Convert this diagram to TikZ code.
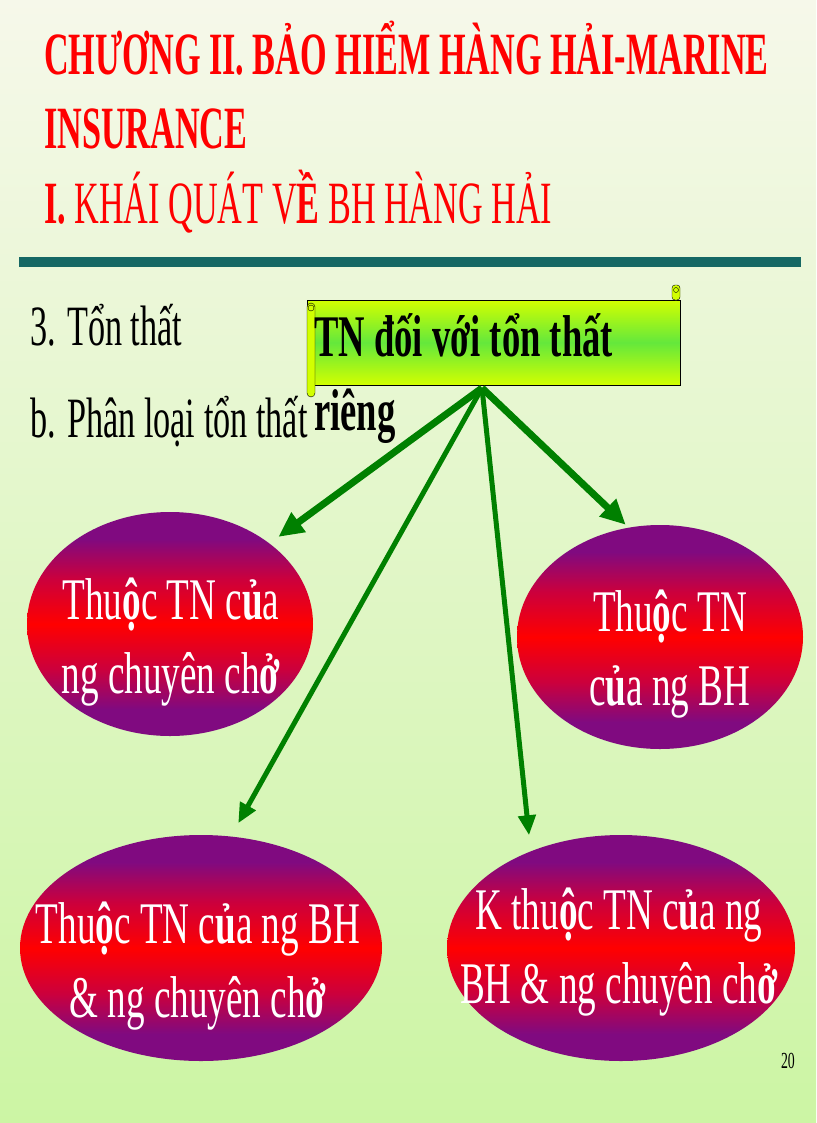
\documentclass[tikz,border=0pt]{standalone}
\usepackage{fontspec}
\setmainfont{Liberation Serif}
\newfontfamily\titlefont[FakeStretch=0.57]{Liberation Serif}
\newfontfamily\bodyfont[FakeStretch=0.6]{Liberation Serif}
\newfontfamily\blobfont[FakeStretch=0.63]{Liberation Serif}
\newfontfamily\scrollfont[FakeStretch=0.62]{Liberation Serif}
\usepackage{tikz}
\usetikzlibrary{positioning}
\usetikzlibrary{shapes.geometric, arrows.meta}
\definecolor{bgtop}{RGB}{246,248,234}
\definecolor{bgbottom}{RGB}{204,245,164}
\definecolor{titlered}{RGB}{255,0,0}
\definecolor{barteal}{RGB}{22,104,100}
\definecolor{arrowgreen}{RGB}{0,128,0}
\definecolor{scrollyellow}{RGB}{210,255,0}
\definecolor{scrollgreen}{RGB}{100,232,60}
\definecolor{rimpurple}{RGB}{128,10,128}
\definecolor{crimson}{RGB}{204,0,60}
\definecolor{corered}{RGB}{255,0,0}
\pgfdeclareverticalshading{blobshade}{100bp}{color(0bp)=(rimpurple); color(25bp)=(rimpurple); color(31bp)=(rimpurple); color(40bp)=(crimson); color(50bp)=(corered); color(60bp)=(crimson); color(69bp)=(rimpurple); color(75bp)=(rimpurple); color(100bp)=(rimpurple)}
\tikzstyle{arrow} = [line width=7pt,-{Triangle[length=25pt,width=23pt]},arrowgreen]
\tikzstyle{longarrow} = [line width=5pt,-{Triangle[length=20pt,width=17pt]},arrowgreen]
\tikzstyle{titletext} = [inner sep=0pt,text=titlered,font=\titlefont\fontsize{60}{72}\selectfont]
\tikzstyle{bodytext} = [inner sep=0pt,font=\bodyfont\fontsize{57}{74}\selectfont]
\tikzstyle{blob} = [ellipse,inner sep=0pt,shading=blobshade]
\tikzstyle{blobtext} = [inner sep=0pt,anchor=base,text=white,align=center,font=\blobfont\fontsize{59}{74}\selectfont]

\begin{document}
\begin{tikzpicture}[x=1pt,y=-1pt]
	\useasboundingbox (0,0) rectangle (816,1123);
	\shade[top color=bgtop,bottom color=bgbottom] (0,0) rectangle (816,1123);

	%Title
	\node[titletext, anchor=base west] (title1) at (44,75) {\bfseries CHƯƠNG II. BẢO HIỂM HÀNG HẢI-MARINE};
	\node[titletext, anchor=base west] (title2) at (44,149) {\bfseries INSURANCE};
	\node[titletext, anchor=base west] (title3) at (44,223) {\textbf{I.} KHÁI QUÁT V\textbf{Ề} BH HÀNG HẢI};
	\fill[barteal] (19,257) rectangle (801,267);

	%Text
	\node[bodytext, anchor=base west] (loss) at (30,345) {3. Tổn thất};
	\node[bodytext, anchor=base west] (kinds) at (30,437) {b. Phân loại tổn thất};

	%Scroll
	\node[draw,thin,inner sep=0pt,minimum width=373pt,minimum height=85pt,top color=scrollyellow,bottom color=scrollyellow,middle color=scrollgreen] (scroll) at (493.5,342.5) {};
	\draw[thin,fill=scrollyellow,rounded corners=4pt] (307,303) rectangle (315,397);
	\draw[thin] (311,308) circle (3);
	\draw[thin,fill=scrollyellow,rounded corners=3pt] (672,285) rectangle (680,300);
	\draw[thin] (676,290) circle (2.5);
	\node[inner sep=0pt,anchor=base west,align=left,font=\scrollfont\bfseries\fontsize{59}{74}\selectfont] (scrolltext) at (314,430) {TN đối với tổn thất\\riêng};
	\coordinate (hub) at (482,388);

	%Ellipses
	\node[blob, minimum width=286pt, minimum height=224pt] (e1) at (170,624) {};
	\node[blob, minimum width=286pt, minimum height=224pt] (e2) at (660,637) {};
	\node[blob, minimum width=362pt, minimum height=226pt] (e3) at (201,948) {};
	\node[blob, minimum width=348pt, minimum height=226pt] (e4) at (621,948) {};
	\node[blobtext] (t1) at (171,693) {Thu\textbf{ộ}c TN c\textbf{ủ}a\\ng chuyên ch\textbf{ở}};
	\node[blobtext] (t2) at (670,705) {Thu\textbf{ộ}c TN\\c\textbf{ủ}a ng BH};
	\node[blobtext] (t3) at (198,1017) {Thu\textbf{ộ}c TN c\textbf{ủ}a ng BH\\\& ng chuyên ch\textbf{ở}};
	\node[blobtext] (t4) at (619,1003) {K thu\textbf{ộ}c TN c\textbf{ủ}a ng\\BH \& ng chuyên ch\textbf{ở}};
	\node[inner sep=0pt,anchor=base east,font=\bodyfont\fontsize{23}{26}\selectfont] (pageno) at (795,1068) {20};

	%Lines
	\draw[arrow, shorten >=11pt] (hub) -- (e1.39);
	\draw[arrow, shorten >=4pt] (hub) -- (e2.106);
	\draw[longarrow, shorten >=15pt] (hub) -- (e3.75);
	\draw[longarrow, shorten >=16pt] (hub) -- (e4.133);
\end{tikzpicture}
\end{document}
